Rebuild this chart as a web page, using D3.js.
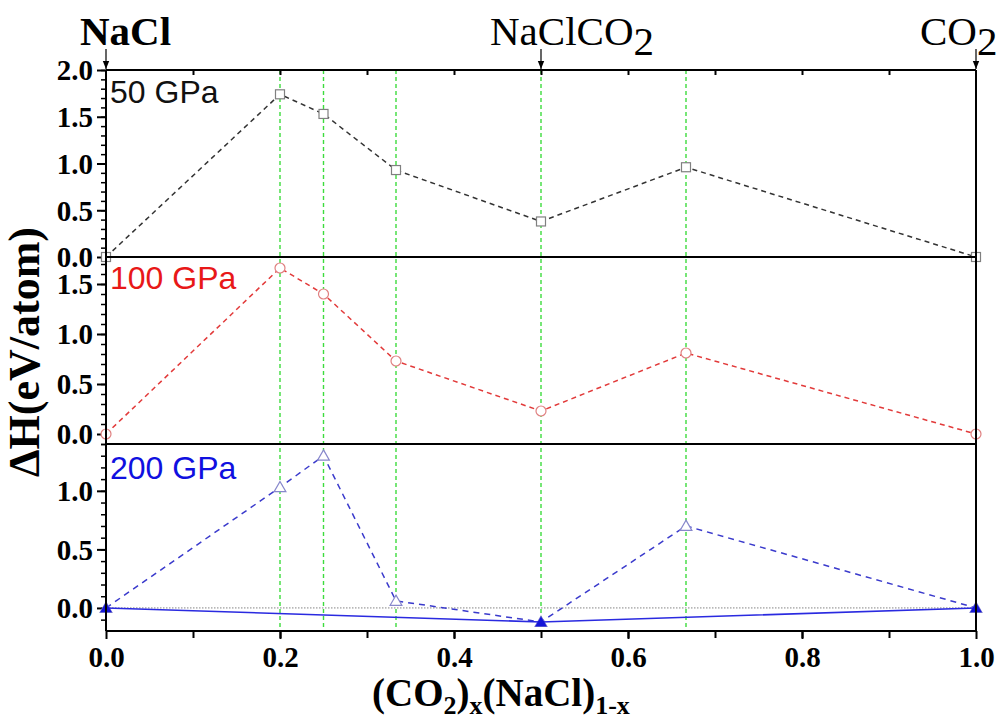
<!DOCTYPE html>
<html>
<head>
<meta charset="utf-8">
<script src="https://cdn.jsdelivr.net/npm/d3@7/dist/d3.min.js"></script>
<style>
  body { margin: 0; background: #fff; }
  svg { display: block; }
</style>
</head>
<body>
<svg id="chart" width="1000" height="720"></svg>
<script>
// Composition x of (CO2)x(NaCl)1-x
const compositions = [0, 0.2, 0.25, 1 / 3, 0.5, 2 / 3, 1];
// Formation enthalpy (eV/atom) per pressure
const enthalpy50 = [0, 1.74, 1.53, 0.93, 0.38, 0.96, 0];
const enthalpy100 = [0, 1.66, 1.40, 0.73, 0.23, 0.81, 0];
const enthalpy200 = [0, 1.03, 1.30, 0.06, -0.12, 0.70, 0];
// Convex hull at 200 GPa
const hullX = [0, 0.5, 1];
const hullY = [0, -0.12, 0];
// Guide lines at the studied stoichiometries
const guideX = [0.2, 0.25, 1 / 3, 0.5, 2 / 3];
// Axis tick values
const xTicks = [0, 0.2, 0.4, 0.6, 0.8, 1.0];
const yTicks50 = [0, 0.5, 1.0, 1.5, 2.0];
const yTicks100 = [0, 0.5, 1.0, 1.5];
const yTicks200 = [0, 0.5, 1.0];
// End-member / compound labels on top
const topLabels = [
  { x: 0, parts: [["NaCl", false]], bold: true, shift: -26 },
  { x: 0.5, parts: [["NaClCO", false], ["2", true]], bold: false, shift: -51 },
  { x: 1, parts: [["CO", false], ["2", true]], bold: false, shift: -56 }
];

const svg = d3.select("#chart");
const L = 106, R = 976, T = 70, B = 631;
const x = d3.scaleLinear().domain([0, 1]).range([L, R]);

const panels = [
  { label: "50 GPa", color: "#111", lineColor: "#333", marker: "square", markerColor: "#808080",
    ys: enthalpy50, domain: [0, 2.0], range: [257, T], ticks: yTicks50, dash: "5,4", lblY: 103 },
  { label: "100 GPa", color: "#e81818", lineColor: "#e23a3a", marker: "circle", markerColor: "#e08080",
    ys: enthalpy100, domain: [-0.1, 1.77], range: [444, 257], ticks: yTicks100, dash: "5,4", lblY: 289 },
  { label: "200 GPa", color: "#1010e0", lineColor: "#3a3acc", marker: "triangle", markerColor: "#8888cc",
    ys: enthalpy200, domain: [-0.197, 1.4], range: [B, 444], ticks: yTicks200, dash: "6,5", lblY: 479 }
];

const serif = "'Liberation Serif', 'DejaVu Serif', serif";
const sans = "'Liberation Sans', Arial, sans-serif";

// Green dashed guides spanning all panels
svg.append("g").selectAll("line").data(guideX).join("line")
  .attr("x1", d => x(d)).attr("x2", d => x(d))
  .attr("y1", T).attr("y2", B)
  .attr("stroke", "#3ddc3d").attr("stroke-width", 1.4)
  .attr("stroke-dasharray", "4,3");

panels.forEach((p, i) => {
  const y = d3.scaleLinear().domain(p.domain).range(p.range);
  const g = svg.append("g");

  // Left axis: labelled major ticks, minor every 0.1
  const minor = d3.range(Math.ceil(p.domain[0] * 10), Math.floor(p.domain[1] * 10 + 1e-6) + 1).map(v => v / 10);
  g.append("g").attr("transform", `translate(${L},0)`)
    .call(d3.axisLeft(y).tickValues(minor).tickSize(5).tickFormat(""))
    .call(a => a.select(".domain").remove())
    .call(a => a.selectAll("line").attr("stroke", "#000").attr("stroke-width", 1.5));
  g.append("g").attr("transform", `translate(${L},0)`)
    .call(d3.axisLeft(y).tickValues(p.ticks).tickSize(9).tickFormat(d3.format(".1f")))
    .call(a => a.select(".domain").remove())
    .call(a => a.selectAll("line").attr("stroke", "#000").attr("stroke-width", 2))
    .call(a => a.selectAll("text").attr("font-family", serif).attr("font-weight", "bold")
      .attr("font-size", 29).attr("fill", "#000").attr("dx", "-1").attr("dy", "0.34em"));

  if (i === 2) {
    // zero reference
    g.append("line").attr("x1", L).attr("x2", R).attr("y1", y(0)).attr("y2", y(0))
      .attr("stroke", "#666").attr("stroke-width", 0.8).attr("stroke-dasharray", "1.5,1.5");
  }

  const line = d3.line().x(d => x(d[0])).y(d => y(d[1]));
  const pts = compositions.map((c, k) => [c, p.ys[k]]);
  g.append("path").datum(pts).attr("d", line)
    .attr("fill", "none").attr("stroke", p.lineColor).attr("stroke-width", 1.5)
    .attr("stroke-dasharray", p.dash);

  const mk = g.append("g").selectAll("g").data(pts).join("g")
    .attr("transform", d => `translate(${x(d[0])},${y(d[1])})`);
  if (p.marker === "square") {
    mk.append("rect").attr("x", -4.5).attr("y", -4.5).attr("width", 9).attr("height", 9)
      .attr("fill", "#fff").attr("stroke", p.markerColor).attr("stroke-width", 1.2);
  } else if (p.marker === "circle") {
    mk.append("circle").attr("r", 5).attr("fill", "#fff")
      .attr("stroke", p.markerColor).attr("stroke-width", 1.2);
  } else {
    mk.append("path").attr("d", d3.symbol(d3.symbolTriangle, 60)())
      .attr("transform", "translate(0,1)")
      .attr("fill", "#fff").attr("stroke", p.markerColor).attr("stroke-width", 1.2);
    // hull
    const hull = hullX.map((c, k) => [c, hullY[k]]);
    g.append("path").datum(hull).attr("d", line)
      .attr("fill", "none").attr("stroke", "#2a2ae0").attr("stroke-width", 1.6);
    g.append("g").selectAll("path").data(hull).join("path")
      .attr("d", d3.symbol(d3.symbolTriangle, 60)())
      .attr("transform", d => `translate(${x(d[0])},${y(d[1]) + 1})`)
      .attr("fill", "#1515d8");
  }

  g.append("text").attr("x", L + 4).attr("y", p.lblY)
    .attr("font-family", sans).attr("font-size", 32).attr("fill", p.color)
    .text(p.label);

  // panel separator / frame line
  g.append("line").attr("x1", L).attr("x2", R).attr("y1", p.range[0]).attr("y2", p.range[0])
    .attr("stroke", "#000").attr("stroke-width", 2);
});

// Frame
svg.append("line").attr("x1", L).attr("x2", R).attr("y1", T).attr("y2", T).attr("stroke", "#000").attr("stroke-width", 2);
svg.append("line").attr("x1", L).attr("x2", L).attr("y1", T).attr("y2", B).attr("stroke", "#000").attr("stroke-width", 2);
svg.append("line").attr("x1", R).attr("x2", R).attr("y1", T).attr("y2", B).attr("stroke", "#000").attr("stroke-width", 2);

// Top axis ticks (inward)
const tenths = d3.range(1, 10).map(v => v / 10);
svg.append("g").attr("transform", `translate(0,${T})`)
  .call(d3.axisBottom(x).tickValues(tenths).tickSize(5).tickFormat(""))
  .call(a => a.select(".domain").remove())
  .call(a => a.selectAll("line").attr("stroke", "#000").attr("stroke-width", 2));

// Bottom axis
svg.append("g").attr("transform", `translate(0,${B})`)
  .call(d3.axisBottom(x).tickValues(tenths).tickSize(7).tickFormat(""))
  .call(a => a.select(".domain").remove())
  .call(a => a.selectAll("line").attr("stroke", "#000").attr("stroke-width", 2));
svg.append("g").attr("transform", `translate(0,${B})`)
  .call(d3.axisBottom(x).tickValues(xTicks).tickSize(8).tickFormat(d3.format(".1f")))
  .call(a => a.select(".domain").remove())
  .call(a => a.selectAll("line").attr("stroke", "#000").attr("stroke-width", 2))
  .call(a => a.selectAll("text").attr("font-family", serif).attr("font-weight", "bold")
    .attr("font-size", 29).attr("fill", "#000").attr("dy", "0.85em"));

// Top composition labels with arrows
svg.append("defs").append("marker").attr("id", "arr")
  .attr("viewBox", "0 0 10 10").attr("refX", 10).attr("refY", 5)
  .attr("markerWidth", 7).attr("markerHeight", 7).attr("orient", "auto")
  .append("path").attr("d", "M0,1 L10,5 L0,9 Z").attr("fill", "#000");
topLabels.forEach(t => {
  const cx = x(t.x);
  svg.append("line").attr("x1", cx).attr("x2", cx).attr("y1", 49).attr("y2", T - 1)
    .attr("stroke", "#000").attr("stroke-width", 1.2).attr("marker-end", "url(#arr)");
  const txt = svg.append("text").attr("font-family", serif).attr("font-size", 41)
    .attr("font-weight", t.bold ? "bold" : "normal").attr("fill", "#000").attr("y", 45)
    .attr("x", cx + t.shift);
  t.parts.forEach(([s, sub]) => {
    const ts = txt.append("tspan").text(s);
    if (sub) ts.attr("dy", 10);
  });
});

// Y axis title
svg.append("text")
  .attr("transform", "translate(39,352) rotate(-90)")
  .attr("text-anchor", "middle").attr("font-family", serif).attr("font-weight", "bold")
  .attr("font-size", 44).attr("fill", "#000")
  .text("ΔH(eV/atom)");

// X axis title
const xt = svg.append("text").attr("font-family", serif).attr("font-weight", "bold")
  .attr("font-size", 39).attr("fill", "#000").attr("y", 706).attr("x", 372);
xt.append("tspan").text("(CO");
xt.append("tspan").text("2").attr("font-size", 26).attr("dy", 8);
xt.append("tspan").text(")").attr("dy", -8);
xt.append("tspan").text("x").attr("font-size", 26).attr("dy", 8);
xt.append("tspan").text("(NaCl)").attr("dy", -8);
xt.append("tspan").text("1-x").attr("font-size", 26).attr("dy", 8);
</script>
</body>
</html>
